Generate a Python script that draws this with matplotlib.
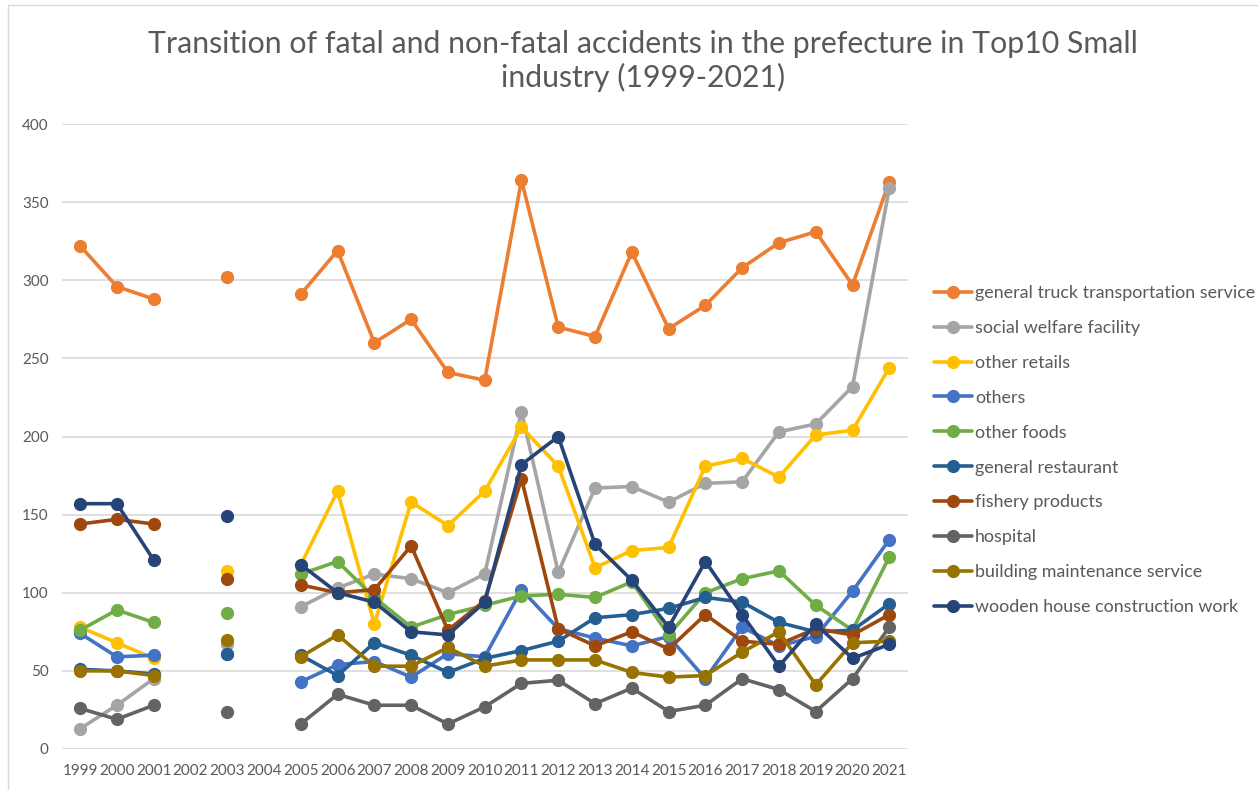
import numpy as np
import matplotlib
matplotlib.use("Agg")
import matplotlib.pyplot as plt
from matplotlib.patches import Rectangle

nan = np.nan
years = [str(y) for y in range(1999, 2022)]

general_truck = [322, 296, 288, nan, 302, nan, 291, 319, 260, 275, 241, 236, 364, 270, 264, 318, 269, 284, 308, 324, 331, 297, 363]
social_welfare = [13, 28, 45, nan, 67, nan, 91, 103, 112, 109, 100, 112, 216, 113, 167, 168, 158, 170, 171, 203, 208, 232, 359]
other_retails = [78, 68, 58, nan, 114, nan, 118, 165, 80, 158, 143, 165, 206, 181, 116, 127, 129, 181, 186, 174, 201, 204, 244]
others = [74, 59, 60, nan, 61, nan, 43, 54, 56, 46, 61, 59, 102, 77, 71, 66, 72, 45, 78, 66, 72, 101, 134]
other_foods = [76, 89, 81, nan, 87, nan, 112, 120, 97, 78, 86, 92, 98, 99, 97, 107, 73, 100, 109, 114, 92, 76, 123]
general_restaurant = [51, 50, 48, nan, 61, nan, 60, 47, 68, 60, 49, 58, 63, 69, 84, 86, 90, 97, 94, 81, 75, 76, 93]
fishery_products = [144, 147, 144, nan, 109, nan, 105, 100, 102, 130, 76, 95, 173, 77, 66, 75, 64, 86, 69, 67, 77, 73, 86]
hospital = [26, 19, 28, nan, 24, nan, 16, 35, 28, 28, 16, 27, 42, 44, 29, 39, 24, 28, 45, 38, 24, 45, 78]
building_maintenance = [50, 50, 47, nan, 70, nan, 59, 73, 53, 53, 65, 53, 57, 57, 57, 49, 46, 47, 62, 75, 41, 68, 69]
wooden_house = [157, 157, 121, nan, 149, nan, 118, 100, 94, 75, 73, 94, 182, 200, 131, 108, 78, 120, 86, 53, 80, 58, 67]

series_names = ["general truck transportation service", "social welfare facility", "other retails",
                "others", "other foods", "general restaurant", "fishery products", "hospital",
                "building maintenance service", "wooden house construction work"]
series_values = [general_truck, social_welfare, other_retails, others, other_foods,
                 general_restaurant, fishery_products, hospital, building_maintenance, wooden_house]
colors = ["#ED7D31", "#A5A5A5", "#FFC000", "#4472C4", "#70AD47",
          "#255E91", "#9E480E", "#636363", "#997300", "#264478"]

plt.rcParams['font.family'] = ['Lato', 'DejaVu Sans']
text_color = "#595959"

W, H = 1258, 790
fig = plt.figure(figsize=(W / 100, H / 100), dpi=100)

# chart-area border (only left/top visible in the reference crop)
fig.patches.append(Rectangle((8 / W, -0.1), 1.2, 1.1 - 5 / H, transform=fig.transFigure,
                             fill=False, edgecolor='#D9D9D9', lw=1.0))

ax = fig.add_axes([61.7 / W, 1 - 749 / H, (907.7 - 61.7) / W, (749 - 124) / H])

x = np.arange(len(years))
for name, vals, c in zip(series_names, series_values, colors):
    ax.plot(x, np.array(vals, dtype=float), color=c, lw=2.6, marker='o', markersize=8.5,
            label=name, solid_capstyle='round')

ax.set_xlim(-0.5, len(years) - 0.5)
ax.set_ylim(0, 400)
ax.set_yticks(np.arange(0, 401, 50))
ax.set_xticks(x)
ax.set_xticklabels(years)
ax.grid(axis='y', color='#D9D9D9', lw=1.2)
ax.set_axisbelow(True)
for s in ['top', 'right', 'left', 'bottom']:
    ax.spines[s].set_visible(False)
ax.tick_params(axis='both', length=0, colors=text_color, labelsize=11)
ax.tick_params(axis='x', pad=11)
ax.tick_params(axis='y', pad=9.5)

fig.text(0.511, 1 - 61 / H, "Transition of fatal and non-fatal accidents in the prefecture in Top10 Small\nindustry (1999-2021)",
         ha='center', va='center', fontsize=21.8, color=text_color, linespacing=1.22)

leg = fig.legend(loc='upper left', bbox_to_anchor=(934 / W, 1 - 285 / H), frameon=False,
                 fontsize=12.9, labelcolor=text_color, handlelength=2.1, handletextpad=0.2,
                 labelspacing=1.055, borderaxespad=0, borderpad=0)

fig.savefig("out.png", dpi=100)
